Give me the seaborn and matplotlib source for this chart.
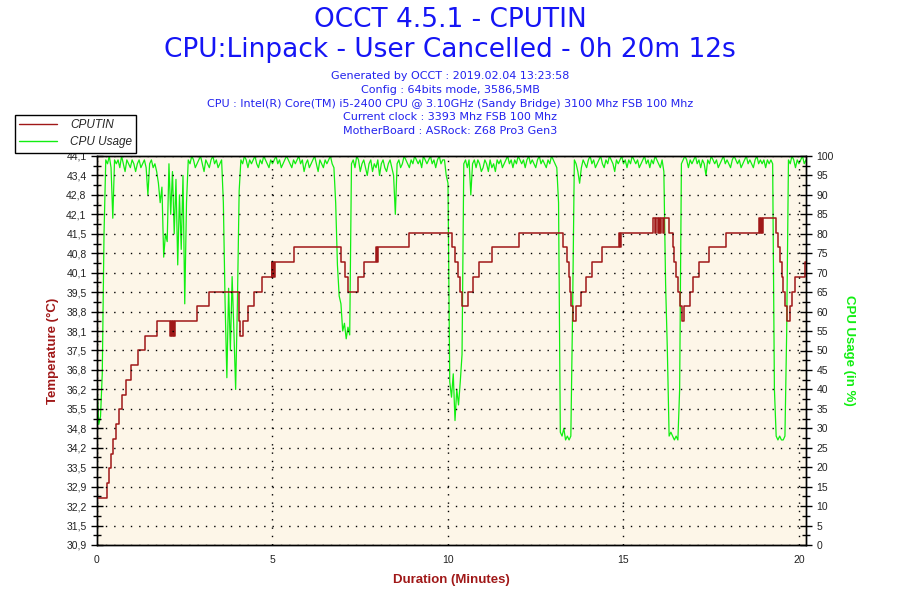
import numpy as np
import pandas as pd
import seaborn as sns
import matplotlib.pyplot as plt
from matplotlib.ticker import FixedLocator, MultipleLocator
from matplotlib.lines import Line2D

# CPUTIN temperature, logged as step changes (minutes, deg C)
temp_t = [0.00, 0.29, 0.35, 0.41, 0.47, 0.54, 0.62, 0.72, 0.82, 0.96, 1.16, 1.37, 1.70,
          2.08, 2.10, 2.13, 2.16, 2.19, 2.22, 2.84, 3.19, 4.04, 4.06, 4.16, 4.30, 4.48, 4.70,
          4.98, 5.00, 5.02, 5.04, 5.06, 5.60, 6.96, 7.07, 7.15, 7.43, 7.62, 7.96, 7.98, 8.02, 8.90,
          10.11, 10.19, 10.28, 10.33, 10.40, 10.56, 10.71, 10.88, 11.25, 12.01,
          13.29, 13.38, 13.44, 13.48, 13.51, 13.55, 13.64, 13.79, 13.93, 14.10, 14.40,
          14.88, 14.90, 14.93, 15.85, 15.90, 15.93, 15.97, 16.00, 16.05, 16.08, 16.12, 16.15,
          16.30, 16.40, 16.45, 16.51, 16.56, 16.61, 16.66, 16.73, 16.89, 16.98, 17.14, 17.44, 17.93,
          18.86, 18.89, 18.92, 18.95, 18.98, 19.34, 19.40, 19.45, 19.51, 19.55, 19.60, 19.67, 19.74,
          19.80, 19.90, 20.17, 20.20]
temp_c = [32.5, 33.0, 33.5, 34.0, 34.5, 35.0, 35.5, 36.0, 36.5, 37.0, 37.5, 38.0, 38.5,
          38.0, 38.5, 38.0, 38.5, 38.0, 38.5, 39.0, 39.5, 38.5, 38.0, 38.5, 39.0, 39.5, 40.0,
          40.5, 40.0, 40.5, 40.0, 40.5, 41.0, 40.5, 40.0, 39.5, 40.0, 40.5, 41.0, 40.5, 41.0, 41.5,
          41.0, 40.5, 40.0, 39.5, 39.0, 39.5, 40.0, 40.5, 41.0, 41.5,
          41.0, 40.5, 40.0, 39.5, 39.0, 38.5, 39.0, 39.5, 40.0, 40.5, 41.0,
          41.5, 41.0, 41.5, 42.0, 41.5, 42.0, 41.5, 42.0, 41.5, 42.0, 41.5, 42.0,
          41.5, 41.0, 40.5, 40.0, 39.5, 39.0, 38.5, 39.0, 39.5, 40.0, 40.5, 41.0, 41.5,
          42.0, 41.5, 42.0, 41.5, 42.0, 41.5, 41.0, 40.5, 40.0, 39.5, 39.0, 38.5, 39.0,
          39.5, 40.0, 40.5, 40.5]

# CPU usage (%), one sample every 3 s
SAMPLE_MIN = 0.05
usage = [41, 31, 33, 44, 80, 99, 98, 100, 97, 84,
         99, 98, 99, 97, 100, 98, 96, 99, 98, 97, 99, 98, 96, 98, 99, 97, 98, 99, 97,
         90, 98, 99, 97, 98, 96,
         93, 88, 92, 74, 80, 78, 98, 85, 96, 80, 94, 72, 90, 76, 95, 62, 88,
         99, 98, 100, 99, 97, 98, 99, 100, 98, 96, 99, 98, 97, 99, 100, 98, 99, 97, 98, 99,
         88, 62, 43, 66, 50, 69, 55, 40, 62, 91,
         99, 98, 100, 99, 97, 99, 98, 99, 100, 98,
         97, 99, 98, 100, 99, 98, 97, 99, 98, 99,
         100, 98, 99, 97, 98, 99, 100, 99, 98, 97,
         99, 98, 99, 100, 98, 99, 96, 98, 99, 97,
         98, 99, 100, 98, 96, 99, 98, 97, 99, 98,
         99, 100, 98,
         97, 88, 72, 64, 62, 55, 57, 53, 56, 54,
         98, 99, 97, 100, 99, 96, 98, 99, 97, 95,
         98, 99, 96, 98, 97, 99, 95, 98, 99, 97,
         96, 98, 99, 97, 95,
         85,
         98, 99, 97, 98, 100, 99, 98, 97, 99, 98,
         100, 99, 98, 99, 97, 100, 99, 98, 99, 100,
         98, 99, 97, 99, 100, 98, 99, 99,
         95,
         93, 42, 38, 44, 32, 40, 36, 42, 49,
         98, 99, 97, 99,
         90,
         98, 99, 97, 99, 98, 96, 97, 99, 98, 96,
         99, 97, 98, 96, 99, 98, 99, 97, 98, 99,
         100, 98, 99, 97, 99, 98, 100, 99, 98, 99,
         97, 99, 100, 98, 99, 98, 97, 99, 100, 98,
         99, 98, 97, 99, 98, 100, 99, 98,
         97, 88, 29, 28, 30, 27, 28, 27, 28, 60,
         99, 98, 96, 93, 97, 99, 98, 97, 99, 100,
         98, 99, 97, 98, 99, 100, 98, 97, 99, 98,
         100, 99, 98, 96, 99, 98, 99, 100, 98, 99,
         97, 99, 98, 100, 99, 98, 99, 97, 98, 99,
         100, 98, 99, 97, 99, 98, 100, 99, 98, 97,
         99,
         96, 67, 50, 28, 29, 28, 27, 28, 27, 40,
         98, 99, 100, 99, 97, 99, 98, 99, 100, 98,
         99, 97, 99, 98, 95, 99, 98, 100, 99, 98,
         99, 97, 98, 99, 100, 98, 99, 98, 97, 99,
         100, 99, 98, 99, 97, 98, 99, 100, 98, 99,
         98, 97, 99, 100, 98, 99, 98, 99, 97, 99,
         98, 99,
         98, 40, 28, 27, 28, 27, 27, 28, 55,
         99, 98, 100, 99, 97, 99, 98, 99, 100, 98, 99]

temp_tick_labels = ["30,9", "31,5", "32,2", "32,9", "33,5", "34,2", "34,8", "35,5", "36,2", "36,8",
                    "37,5", "38,1", "38,8", "39,5", "40,1", "40,8", "41,5", "42,1", "42,8", "43,4", "44,1"]
usage_ticks = list(range(0, 101, 5))
x_ticks = [0, 5, 10, 15, 20]

title_lines = ["OCCT 4.5.1 - CPUTIN", "CPU:Linpack - User Cancelled - 0h 20m 12s"]
info_lines = ["Generated by OCCT : 2019.02.04 13:23:58",
              "Config : 64bits mode, 3586,5MB",
              "CPU : Intel(R) Core(TM) i5-2400 CPU @ 3.10GHz (Sandy Bridge) 3100 Mhz FSB 100 Mhz",
              "Current clock : 3393 Mhz FSB 100 Mhz",
              "MotherBoard : ASRock: Z68 Pro3 Gen3"]

T_MIN, T_MAX = 30.9, 44.1
RED = "#A01818"
GREEN = "#11EE11"
BLUE = "#1515F5"

temp_df = pd.DataFrame({"minutes": temp_t, "temp": temp_c})
usage_df = pd.DataFrame({"minutes": np.arange(len(usage)) * SAMPLE_MIN, "usage": usage})

sns.set_style("white")
plt.rcParams["font.family"] = ["Liberation Sans", "DejaVu Sans"]

fig = plt.figure(figsize=(9, 6), dpi=100)
ax = fig.add_axes([97 / 900, 1 - 545 / 600, (806 - 97) / 900, (545 - 156) / 600])
ax2 = ax.twinx()

sns.lineplot(data=usage_df, x="minutes", y="usage", ax=ax2, color=GREEN, lw=0.9,
             estimator=None, sort=False)
sns.lineplot(data=temp_df, x="minutes", y="temp", ax=ax, color=RED, lw=1.1,
             estimator=None, sort=False, drawstyle="steps-post")
ax.set_zorder(ax2.get_zorder() + 1)
ax.patch.set_visible(False)
ax2.patch.set_visible(True)
ax2.patch.set_facecolor("#FDF6E8")

ax.set_xlim(0, 20.2)
ax.set_ylim(T_MIN, T_MAX)
ax2.set_ylim(0, 100)

step = (T_MAX - T_MIN) / 20
ax.yaxis.set_major_locator(FixedLocator([T_MIN + k * step for k in range(21)]))
ax.yaxis.set_minor_locator(FixedLocator([T_MIN + (k + 0.5) * step for k in range(20)]))
ax.set_yticklabels(temp_tick_labels)
ax2.set_yticks(usage_ticks)
ax2.yaxis.set_minor_locator(MultipleLocator(2.5))
ax.set_xticks(x_ticks)
ax.xaxis.set_minor_locator(MultipleLocator(1))

for a in (ax, ax2):
    a.tick_params(which="major", direction="inout", length=9, width=1, color="black",
                  labelsize=7.5, labelcolor="#222222", pad=3)
    a.tick_params(which="minor", direction="inout", length=6, width=1, color="black")
    for s in a.spines.values():
        s.set_color("black")
        s.set_linewidth(1)

ax.grid(axis="y", which="major", color="black", linestyle=(0, (1, 5)), lw=1)
ax.grid(axis="x", which="major", color="black", linestyle=(0, (1, 5)), lw=1)
ax.set_axisbelow(False)

ax.set_xlabel("Duration (Minutes)", color=RED, fontweight="bold", fontsize=9.5, labelpad=6)
ax.set_ylabel("Temperature (°C)", color=RED, fontweight="bold", fontsize=9.5, labelpad=5)
ax2.set_ylabel("CPU Usage (in %)", color=GREEN, fontweight="bold", fontsize=9.5,
               rotation=270, labelpad=15)

fig.text(0.5, 1 - 20 / 600, title_lines[0], ha="center", va="center", color=BLUE,
         fontsize=19, family="DejaVu Sans")
fig.text(0.5, 1 - 50 / 600, title_lines[1], ha="center", va="center", color=BLUE,
         fontsize=19, family="DejaVu Sans")
for i, line in enumerate(info_lines):
    fig.text(0.5, 1 - (76 + i * 13.8) / 600, line, ha="center", va="center", color="#2222EE",
             fontsize=8, family="DejaVu Sans")

handles = [Line2D([], [], color=RED, lw=1), Line2D([], [], color=GREEN, lw=1)]
leg = fig.legend(handles, ["CPUTIN", "CPU Usage"], loc="upper left",
                 bbox_to_anchor=(15 / 900, 1 - 115 / 600), fancybox=False, framealpha=1,
                 edgecolor="black", prop={"style": "italic", "size": 8.5}, handlelength=3.2,
                 borderpad=0.35, labelspacing=0.45, handletextpad=1.1, borderaxespad=0)
leg.get_frame().set_linewidth(1)
leg.set_zorder(10)

fig.savefig("out.png", dpi=100)
